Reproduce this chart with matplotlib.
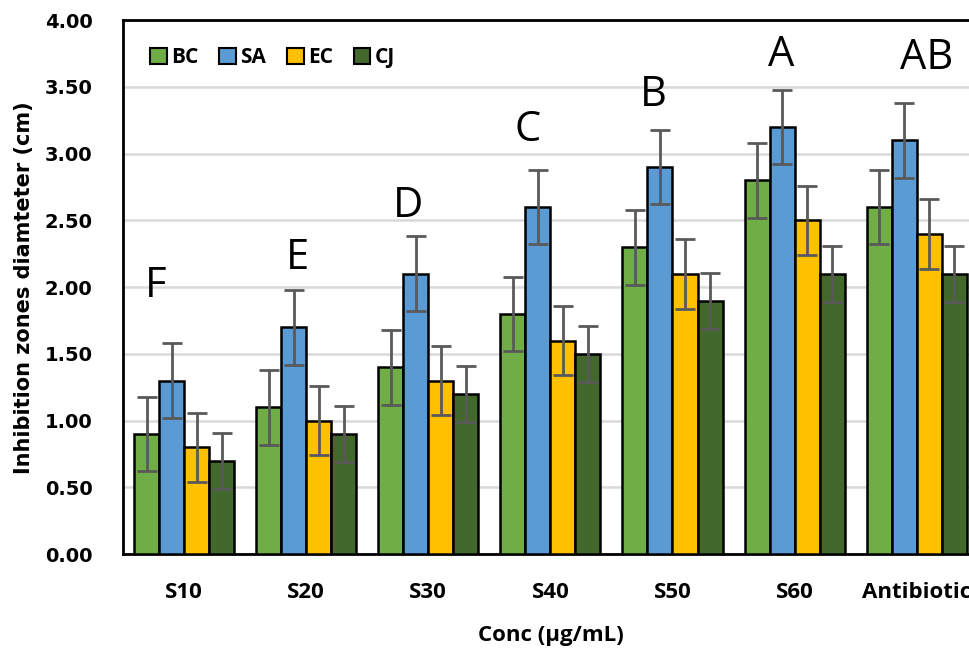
import matplotlib
matplotlib.use("Agg")
import matplotlib.pyplot as plt
import numpy as np

# inhibition zone data (cm)
groups = ["S10", "S20", "S30", "S40", "S50", "S60", "Antibiotic"]
series = ["BC", "SA", "EC", "CJ"]
bc = [0.9, 1.1, 1.4, 1.8, 2.3, 2.8, 2.6]
sa = [1.3, 1.7, 2.1, 2.6, 2.9, 3.2, 3.1]
ec = [0.8, 1.0, 1.3, 1.6, 2.1, 2.5, 2.4]
cj = [0.7, 0.9, 1.2, 1.5, 1.9, 2.1, 2.1]
err_bc = [0.28] * 7
err_sa = [0.28] * 7
err_ec = [0.26] * 7
err_cj = [0.21] * 7
# significance letters and where they sit
letters = ["F", "E", "D", "C", "B", "A", "AB"]
letter_y = [2.01, 2.22, 2.61, 3.18, 3.44, 3.74, 3.72]
letter_dx = [-0.23, -0.07, -0.17, -0.19, -0.16, -0.11, 0.08]

colors = ["#70AD47", "#5B9BD5", "#FFC000", "#43682B"]

fig = plt.figure(figsize=(9.69, 6.52), dpi=100)
ax = fig.add_axes([0.127, 0.150, 0.882, 0.819])

x = np.arange(len(groups))
w = 0.205
vals = [bc, sa, ec, cj]
errs = [err_bc, err_sa, err_ec, err_cj]
for i, (name, v, e, c) in enumerate(zip(series, vals, errs, colors)):
    pos = x + (i - 1.5) * w
    ax.bar(pos, v, width=w, color=c, edgecolor="black", linewidth=1.8,
           label=name, zorder=3)
    ax.errorbar(pos, v, yerr=e, fmt="none", ecolor="#595959",
                elinewidth=2, capsize=7, capthick=2, zorder=4)

for xi, lab, ly, dx in zip(x, letters, letter_y, letter_dx):
    ax.text(xi + dx, ly, lab, ha="center", va="center", fontsize=30,
            family="Open Sans", color="black")

ax.set_xlim(-0.5, 6.5)
ax.set_ylim(0, 4.0)
ax.set_yticks(np.arange(0, 4.01, 0.5))
ax.set_yticklabels(["%.2f" % t for t in np.arange(0, 4.01, 0.5)],
                   fontsize=14, fontweight="bold", family="DejaVu Sans")
ax.set_xticks(x)
ax.set_xticklabels(groups, fontsize=16, fontweight="bold", family="Open Sans")
ax.tick_params(axis="both", length=0)
ax.tick_params(axis="x", pad=20)
ax.tick_params(axis="y", pad=22)

ax.grid(axis="y", color="#d9d9d9", linewidth=1.8, zorder=0)
ax.set_axisbelow(True)
for s in ["left", "bottom", "top"]:
    ax.spines[s].set_linewidth(2)
    ax.spines[s].set_color("black")
ax.spines["right"].set_visible(False)

ax.set_xlabel("Conc (µg/mL)", fontsize=16, fontweight="bold",
              family="Open Sans", labelpad=16)
ax.set_ylabel("Inhibition zones diamteter (cm)", fontsize=15,
              fontweight="bold", family="DejaVu Sans")
ax.yaxis.set_label_coords(-0.104, 0.5)

leg = ax.legend(loc="upper left", ncol=4, frameon=False,
                bbox_to_anchor=(0.01, 0.985), handlelength=0.8,
                handleheight=0.8, handletextpad=0.2, columnspacing=1.0,
                prop={"family": "Open Sans", "weight": "bold", "size": 15})
for h in leg.legend_handles:
    h.set_linewidth(1.5)

fig.savefig("out.png", dpi=100)
